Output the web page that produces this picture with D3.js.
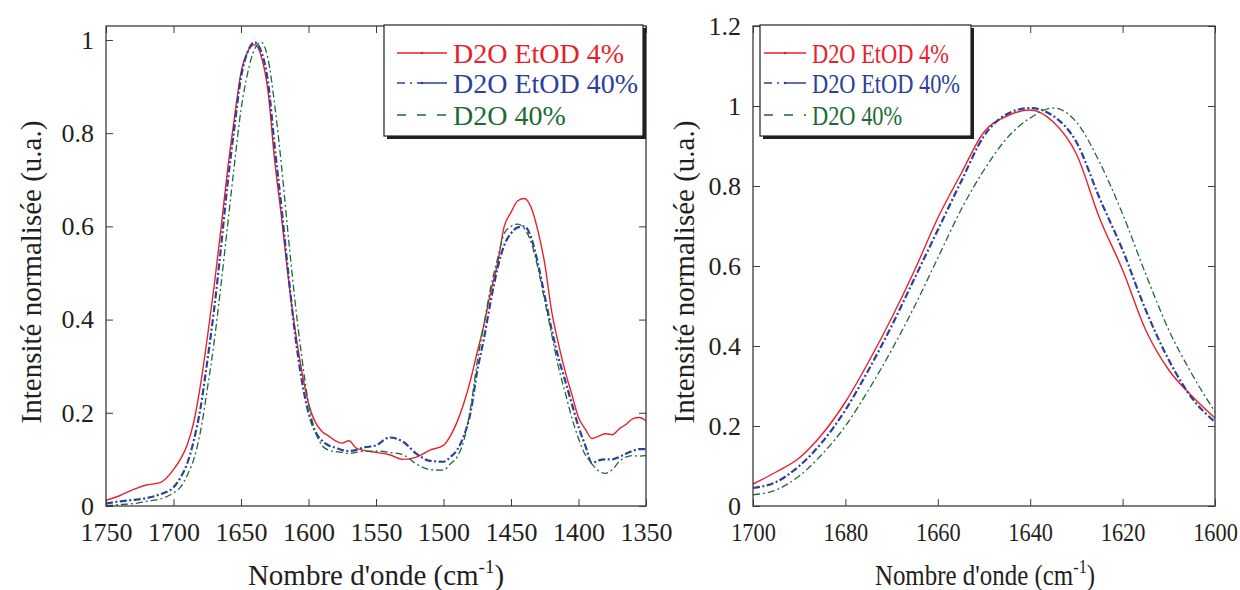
<!DOCTYPE html>
<html><head><meta charset="utf-8">
<script src="https://cdn.jsdelivr.net/npm/d3@7"></script>
<style>
body{margin:0;background:#fff;}
svg text{font-family:"Liberation Serif","Tinos","DejaVu Serif",serif !important;}
</style></head>
<body><svg id="c" width="1240" height="590"></svg>
<script>
// ---------- data ----------
const seriesNames = ["D2O EtOD 4%", "D2O EtOD 40%", "D2O 40%"];
const seriesColors = ["#e8202a", "#2b3f9e", "#1a6b35"];

const leftWave = [1750,1740,1730,1720,1710,1700,1695,1690,1685,1680,1675,1670,1665,1660,1655,1650,1645,1640,1635,1630,1625,1620,1615,1610,1605,1600,1595,1590,1585,1580,1575,1570,1565,1560,1550,1540,1530,1520,1510,1500,1495,1490,1485,1480,1475,1470,1465,1460,1455,1450,1445,1440,1435,1430,1425,1420,1415,1410,1405,1400,1395,1390,1385,1380,1375,1370,1365,1360,1355,1350];
const leftRed = [0.012,0.022,0.035,0.045,0.05,0.078,0.1,0.13,0.18,0.26,0.36,0.47,0.59,0.72,0.83,0.93,0.975,0.99,0.965,0.89,0.74,0.62,0.49,0.38,0.29,0.22,0.18,0.16,0.15,0.14,0.135,0.14,0.125,0.12,0.115,0.11,0.1,0.105,0.12,0.13,0.15,0.18,0.22,0.27,0.33,0.39,0.46,0.52,0.6,0.63,0.655,0.66,0.64,0.59,0.52,0.42,0.35,0.29,0.24,0.19,0.165,0.145,0.15,0.155,0.153,0.165,0.175,0.187,0.19,0.183];
const leftBlue = [0.005,0.01,0.013,0.017,0.025,0.04,0.06,0.09,0.14,0.21,0.31,0.42,0.55,0.69,0.81,0.92,0.975,0.995,0.975,0.91,0.77,0.64,0.5,0.37,0.27,0.2,0.16,0.14,0.13,0.125,0.12,0.118,0.12,0.125,0.13,0.147,0.138,0.112,0.097,0.095,0.105,0.12,0.15,0.2,0.29,0.36,0.44,0.51,0.56,0.585,0.598,0.6,0.575,0.52,0.45,0.38,0.32,0.27,0.22,0.17,0.13,0.092,0.098,0.1,0.1,0.105,0.112,0.118,0.122,0.122];
const leftGreen = [0.0,0.003,0.005,0.01,0.015,0.028,0.04,0.065,0.1,0.16,0.25,0.35,0.47,0.6,0.73,0.85,0.93,0.98,0.995,0.96,0.86,0.73,0.58,0.44,0.32,0.22,0.16,0.13,0.12,0.117,0.115,0.113,0.115,0.117,0.118,0.115,0.11,0.09,0.078,0.077,0.09,0.105,0.14,0.21,0.31,0.39,0.47,0.53,0.585,0.6,0.605,0.595,0.565,0.51,0.44,0.37,0.3,0.245,0.19,0.145,0.11,0.09,0.075,0.07,0.078,0.095,0.105,0.108,0.107,0.108];

const rightWave = [1700,1695,1690,1685,1680,1675,1670,1665,1660,1655,1650,1645,1640,1635,1630,1625,1620,1615,1610,1605,1600];
const rightRed = [0.055,0.085,0.12,0.18,0.26,0.36,0.47,0.59,0.72,0.83,0.935,0.975,0.99,0.96,0.88,0.72,0.59,0.44,0.34,0.275,0.22];
const rightBlue = [0.045,0.06,0.1,0.16,0.24,0.34,0.45,0.57,0.69,0.81,0.925,0.98,0.995,0.975,0.91,0.77,0.64,0.49,0.365,0.27,0.21];
const rightGreen = [0.028,0.04,0.075,0.13,0.2,0.29,0.39,0.5,0.62,0.74,0.84,0.92,0.97,0.995,0.96,0.86,0.73,0.58,0.44,0.33,0.235];

const leftXTicks = [1750,1700,1650,1600,1550,1500,1450,1400,1350];
const leftYTicks = [0,0.2,0.4,0.6,0.8,1];
const rightXTicks = [1700,1680,1660,1640,1620,1600];
const rightYTicks = [0,0.2,0.4,0.6,0.8,1,1.2];

// ---------- drawing ----------
const FONT = '"Liberation Serif", "Tinos", "DejaVu Serif", serif';
const svg = d3.select("#c");
const dashes = [null, "7,2.5,2,2.5", "7,3,2,3"];
const widths = [1.4, 2.2, 1.3];

function panel(o){
  const x = d3.scaleLinear().domain(o.xDomain).range([o.x0, o.x1]);
  const y = d3.scaleLinear().domain(o.yDomain).range([o.y1, o.y0]);
  const g = svg.append("g");
  const sx = o.squeeze;

  const line = d3.line().x(d => x(d[0])).y(d => y(d[1])).curve(d3.curveMonotoneX);
  o.series.forEach((vals, i) => {
    const pts = o.wave.map((w, k) => [w, vals[k]]);
    g.append("path").attr("d", line(pts)).attr("fill", "none")
      .attr("stroke", seriesColors[i]).attr("stroke-width", widths[i])
      .attr("stroke-dasharray", dashes[i]);
  });

  g.append("rect").attr("x", o.x0).attr("y", o.y0).attr("width", o.x1 - o.x0).attr("height", o.y1 - o.y0)
    .attr("fill", "none").attr("stroke", "#3a3a3a").attr("stroke-width", 1.3);

  const tl = 7;
  const bottom = g.append("g").attr("transform", `translate(0,${o.y1})`)
    .call(d3.axisBottom(x).tickValues(o.xTicks).tickSize(-tl).tickPadding(17).tickFormat(d3.format("d")));
  const top = g.append("g").attr("transform", `translate(0,${o.y0})`)
    .call(d3.axisTop(x).tickValues(o.xTicks).tickSize(-tl).tickFormat(""));
  const left = g.append("g").attr("transform", `translate(${o.x0},0)`)
    .call(d3.axisLeft(y).tickValues(o.yTicks).tickSize(-tl).tickPadding(12).tickFormat(d => String(+d.toFixed(1))));
  const right = g.append("g").attr("transform", `translate(${o.x1},0)`)
    .call(d3.axisRight(y).tickValues(o.yTicks).tickSize(-tl).tickFormat(""));
  [bottom, top, left, right].forEach(a => {
    a.attr("font-family", FONT);
    a.select(".domain").remove();
    a.selectAll(".tick line").attr("stroke", "#3a3a3a").attr("stroke-width", 1);
    a.selectAll("text").attr("font-size", 26).attr("fill", "#231f20");
  });
  bottom.selectAll(".tick text").attr("transform", `scale(${sx},1)`);

  const xt = g.append("text").attr("transform", `translate(${o.xTitleX},585) scale(${sx},1)`)
    .attr("font-family", FONT).attr("text-anchor", "middle").attr("font-size", 29).attr("fill", "#231f20");
  xt.append("tspan").text("Nombre d'onde (cm");
  xt.append("tspan").text("-1").attr("font-size", 19).attr("dy", -12);
  xt.append("tspan").text(")").attr("dy", 12);

  g.append("text").attr("transform", `translate(${o.yTitleX},${(o.y0 + o.y1) / 2 + 6}) rotate(-90)`)
    .attr("font-family", FONT).attr("fill", "#231f20")
    .attr("text-anchor", "middle").attr("font-size", 29).text("Intensité normalisée (u.a.)");

  const L = o.legend;
  g.append("rect").attr("x", L.x + 3).attr("y", L.y + 3).attr("width", L.w).attr("height", L.h).attr("fill", "#231f20");
  g.append("rect").attr("x", L.x).attr("y", L.y).attr("width", L.w).attr("height", L.h)
    .attr("fill", "#fff").attr("stroke", "#231f20").attr("stroke-width", 1.2);
  seriesNames.forEach((name, i) => {
    const yy = L.y + L.rowY[i];
    g.append("line").attr("x1", L.lx0).attr("x2", L.lx1).attr("y1", yy).attr("y2", yy)
      .attr("stroke", seriesColors[i]).attr("stroke-width", 1.3)
      .attr("stroke-dasharray", i === 0 ? null : (i === 1 ? "8,5,2,5,30" : "9,11"));
    if (i < 2) g.append("circle").attr("cx", (L.lx0 + L.lx1) / 2).attr("cy", yy).attr("r", 1.3).attr("fill", seriesColors[i]);
    g.append("text").attr("transform", `translate(${L.tx},${yy}) scale(${L.squeeze},1)`)
      .attr("dy", "0.35em").attr("font-size", 28)
      .attr("font-family", FONT).style("fill", seriesColors[i]).text(name);
  });
}

panel({
  x0: 106, x1: 646, y0: 26, y1: 506,
  xDomain: [1750, 1350], yDomain: [0, 1.03],
  wave: leftWave, series: [leftRed, leftBlue, leftGreen],
  xTicks: leftXTicks, yTicks: leftYTicks, yTitleX: 41, xTitleX: 376, squeeze: 1,
  legend: {x: 384, y: 25, w: 259, h: 111, rowY: [28, 58, 90], lx0: 397, lx1: 447, tx: 453, squeeze: 1}
});

panel({
  x0: 753, x1: 1215, y0: 26, y1: 506,
  xDomain: [1700, 1600], yDomain: [0, 1.2],
  wave: rightWave, series: [rightRed, rightBlue, rightGreen],
  xTicks: rightXTicks, yTicks: rightYTicks, yTitleX: 694, xTitleX: 985, squeeze: 0.86,
  legend: {x: 760, y: 25, w: 211, h: 111, rowY: [28, 58, 90], lx0: 764, lx1: 806, tx: 812, squeeze: 0.8}
});
</script></body></html>
